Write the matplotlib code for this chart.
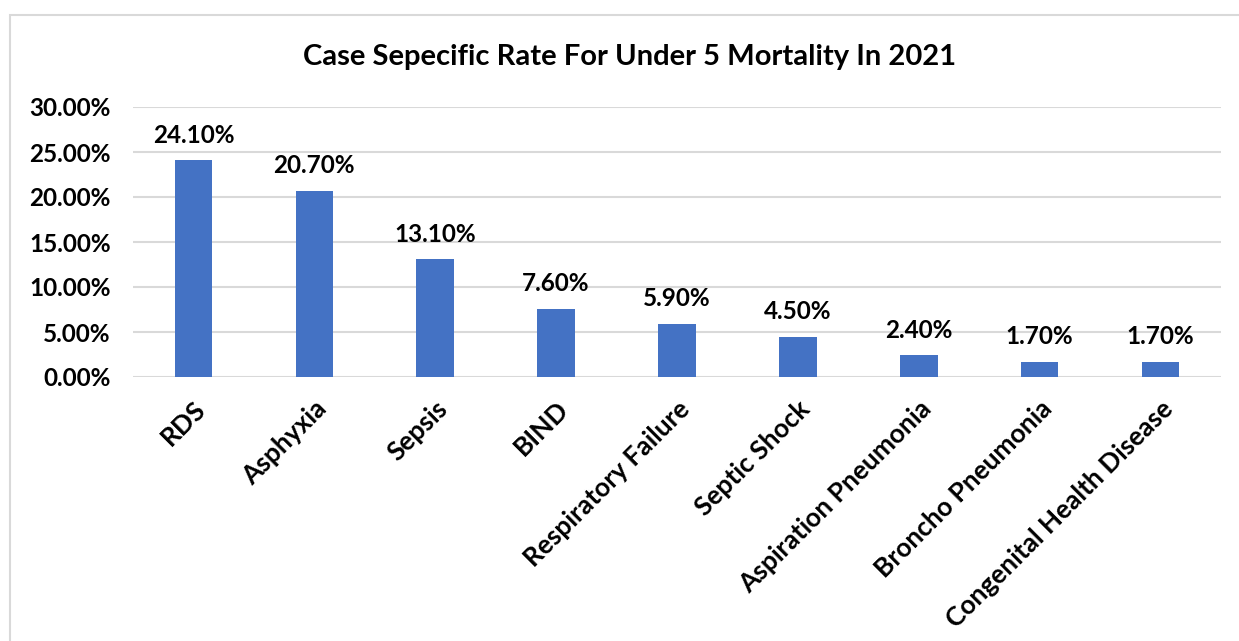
import numpy as np
import matplotlib.pyplot as plt
from matplotlib.patches import Rectangle
from matplotlib.ticker import FuncFormatter

# Cause-specific under-5 mortality shares, 2021
causes = ['RDS', 'Asphyxia', 'Sepsis', 'BIND', 'Respiratory Failure',
          'Septic Shock', 'Aspiration Pneumonia', 'Broncho Pneumonia',
          'Congenital Health Disease']
rates = [24.10, 20.70, 13.10, 7.60, 5.90, 4.50, 2.40, 1.70, 1.70]
yticks = [0, 5, 10, 15, 20, 25, 30]

plt.rcParams['font.family'] = ['Lato', 'DejaVu Sans']
plt.rcParams['font.weight'] = 'bold'

W, H = 1239, 641
fig = plt.figure(figsize=(W / 100, H / 100), dpi=100)
ax = fig.add_axes([133 / W, 1 - 377 / H, (1221 - 133) / W, (377 - 107) / H])

# light chart-area frame (runs off the right and bottom edges)
fig.patches.append(Rectangle((10 / W, -0.1), 1.2, 1 - 15 / H + 0.1,
                             transform=fig.transFigure, fill=False,
                             edgecolor='#d9d9d9', linewidth=1.5, zorder=0))

x = np.arange(len(causes))
ax.bar(x, rates, width=0.31, color='#4472c4', zorder=3)

for xi, v in zip(x, rates):
    ax.text(xi, v + 1.5, f'{v:.2f}%', ha='center', va='bottom',
            fontsize=17.5, fontweight='bold', color='black')

ax.set_xlim(-0.5, len(causes) - 0.5)
ax.set_ylim(0, 30)
ax.set_yticks(yticks)
ax.yaxis.set_major_formatter(FuncFormatter(lambda v, p: f'{v:.2f}%'))
ax.grid(axis='y', color='#d9d9d9', linewidth=1.5, zorder=0)
for s in ax.spines.values():
    s.set_visible(False)
ax.tick_params(axis='both', length=0, labelsize=17.5)
ax.tick_params(axis='y', pad=16)
for lab in ax.get_yticklabels():
    lab.set_fontweight('bold')

ax.set_xticks(x)
ax.set_xticklabels(causes, rotation=45, ha='right', rotation_mode='anchor',
                   fontsize=19, fontweight='bold')
ax.tick_params(axis='x', pad=14)

fig.text(630 / W, 1 - 57 / H, 'Case Sepecific Rate For Under 5 Mortality In 2021',
         ha='center', va='center', fontsize=21, fontweight='bold')

fig.savefig('out.png', dpi=100, facecolor='white')
